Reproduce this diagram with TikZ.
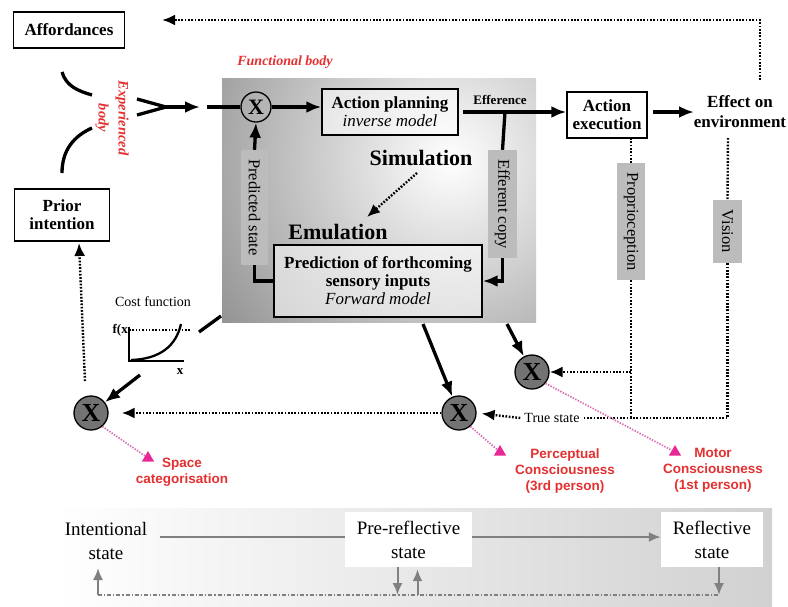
\documentclass[tikz,border=0pt]{standalone}
\usepackage{fontspec}
\setmainfont{Liberation Serif}
\newfontfamily\arialf{Liberation Sans}
\usetikzlibrary{arrows.meta,shapes.geometric,calc}
\definecolor{redtxt}{RGB}{228,48,48}
\definecolor{pinkc}{RGB}{232,40,150}
\definecolor{pinkl}{RGB}{215,110,178}
\definecolor{glab}{RGB}{188,188,188}
\definecolor{bgray}{RGB}{128,128,128}
\begin{document}
\begin{tikzpicture}[x=1pt,y=-1pt,
  every node/.style={inner sep=0pt},
  bx/.style={draw, line width=1.4pt, fill=white, align=center, font=\fontsize{17}{18}\selectfont\bfseries},
  inbx/.style={draw, line width=1.4pt, fill=white, fill opacity=0.55, text opacity=1, align=center, font=\fontsize{17}{18}\selectfont\bfseries},
  glabel/.style={fill=glab, rotate=-90, font=\fontsize{16.5}{17}\selectfont},
  thk/.style={line width=3.3pt, -{Latex[length=15pt,width=12pt]}},
  thkline/.style={line width=3.3pt},
  dotl/.style={line width=2.4pt, dash pattern=on 1.7pt off 1.6pt},
  dotarr/.style={dotl, -{Latex[length=13pt,width=11pt]}},
  xnode/.style={circle, draw, line width=1.3pt, fill=black!55, minimum size=34pt, font=\fontsize{26}{26}\selectfont\bfseries},
  redlab/.style={text=redtxt, align=center, font=\arialf\fontsize{13.5}{16}\selectfont\bfseries},
  pinkline/.style={pinkl, line width=1.7pt, dash pattern=on 1.4pt off 1.4pt},
  tri/.style={regular polygon, regular polygon sides=3, fill=pinkc, minimum size=14pt},
  botxt/.style={align=center, font=\fontsize{19}{24}\selectfont},
  garr/.style={bgray, line width=2pt, -{Latex[length=12pt,width=10pt]}}
]
\useasboundingbox (0,0) rectangle (788,606);
\fill[white] (0,0) rectangle (788,606);

% bottom band
\shade[left color=white, right color=black!18] (55,508) rectangle (772,606);

% functional body shading
\begin{scope}
\clip (222,78) rectangle (536,322);
\shade[inner color=white, outer color=black!74] (450,160) circle [radius=490pt];
\end{scope}
\coordinate (fbA) at (423,324);
\coordinate (fbB) at (507,324);

% labels
\node[text=redtxt, font=\fontsize{14}{16}\selectfont\bfseries\itshape] (fbl) at (285,62) {Functional body};
\node[text=redtxt, rotate=-90, align=center, font=\fontsize{14.5}{20}\selectfont\bfseries\itshape] (expl) at (112,118) {Experienced\\body};

% boxes
\node[bx, minimum width=111pt, minimum height=36pt] (aff) at (69,30) {Affordances};
\node[bx, minimum width=95pt, minimum height=52pt] (prior) at (62,215) {Prior\\intention};
\node[inbx, minimum width=136pt, minimum height=46pt] (ap) at (390,112) {Action planning\\{\mdseries\itshape inverse model}};
\node[inbx, minimum width=208pt, minimum height=72pt] (pred) at (378,281) {Prediction of forthcoming\\sensory inputs\\{\mdseries\itshape Forward model}};
\node[bx, minimum width=80pt, minimum height=46pt] (ae) at (607,115) {Action\\execution};
\node[align=center, font=\fontsize{17}{20}\selectfont\bfseries] (eoe) at (740,112) {Effect on\\environment};

\node[font=\fontsize{22}{22}\selectfont\bfseries] (sim) at (421,158) {Simulation};
\node[font=\fontsize{22}{22}\selectfont\bfseries] (emu) at (338,232) {Emulation};

% gray labels (rotated: west = top, east = bottom)
\node[glabel, minimum width=115pt, minimum height=27pt] (ps) at (254.5,207.5) {Predicted state};
\node[glabel, minimum width=108pt, minimum height=29pt] (ec) at (502.5,204) {Efferent copy};
\node[glabel, minimum width=117pt, minimum height=28pt] (prop) at (631,221.5) {Proprioception};
\node[glabel, minimum width=63pt, minimum height=29pt] (vis) at (727.5,231.5) {Vision};

% X circles
\node[circle, draw, line width=1.3pt, minimum size=30pt, font=\fontsize{22}{22}\selectfont\bfseries] (xin) at (256,107) {X};
\node[xnode] (xm) at (532,372) {X};
\node[xnode] (xp) at (459,413) {X};
\node[xnode] (xs) at (91,413) {X};

% experienced body
\draw[thkline] (62,72) .. controls (66,86) and (78,91) .. (92,95);
\draw[thkline] (92,128) .. controls (74,136) and (62,150) .. (62,173);
\coordinate (gtA) at (137,99);
\coordinate (gtB) at (137,115);
\coordinate (gt) at (166,107);
\coordinate (gtend) at (200,107);
\coordinate (xinst) at (207,107);
\draw[thkline, line join=miter] (gtA) -- (gt) -- (gtB);
\draw[thk] (gt) -- (gtend);
\draw[thkline] (xinst) -- (xin.west);
\draw[thk] (xin.east) -- (xin.east -| ap.west);

% efference
\coordinate (effst) at (463,112);
\draw[thk] (effst) -- (ae.west |- effst);
\node[font=\fontsize{13}{13}\selectfont\bfseries] (effl) at (500,100) {Efference};
\coordinate (ecTop) at (505,112);
\draw[thkline] (ecTop) -- (ec.west);
\draw[thk] (ec.east) |- (pred.east);

% predicted state
\draw[thk] (ps.west) -- (xin.south);
\draw[thkline] (ps.east) |- (pred.west);

% simulation -> emulation
\coordinate (simA) at (417,173);
\coordinate (emuA) at (367,217);
\draw[dotarr] (simA) -- (emuA);

% action execution -> effect
\coordinate (aeR) at (653,112);
\coordinate (eoeL) at (694,112);
\draw[thk] (aeR) -- (eoeL);

% top dotted feedback to affordances
\coordinate (eoeT) at (760,80);
\coordinate (affT) at (162,20);
\draw[dotarr] (eoeT) |- (affT);

% proprioception & vision
\coordinate (propT) at (631,138);
\coordinate (visT) at (728,138);
\draw[dotl] (propT) -- (prop.west);
\draw[dotl] (visT) -- (vis.west);
\node[font=\fontsize{14}{14}\selectfont, fill=white, inner xsep=4pt, inner ysep=2pt] (ts) at (552,418) {True state};
\draw[dotl] (vis.east) |- (ts.east);
\draw[dotl] (prop.east) -- (prop.east |- ts.east);
\draw[dotarr] (prop.east |- xm.east) -- (xm.east);
\draw[dotarr, shorten >=5pt] (ts.west) -- (xp.east);
\draw[dotarr, shorten >=13pt] (xp.west) -- (xs.east);

% functional body outputs
\draw[thk] (fbA) -- (xp);
\draw[thk] (fbB) -- (xm);

% cost function
\node[font=\fontsize{14}{14}\selectfont] (cf) at (153,302) {Cost function};
\draw[line width=2.3pt] (129,327) -- (129,361) -- (184,361);
\draw[line width=2.3pt] (131,360) .. controls (160,359) and (176,346) .. (181,324);
\draw[line width=1.7pt, dash pattern=on 1.5pt off 1.8pt] (129,330) -- (191,330);
\node[anchor=east, font=\fontsize{13}{13}\selectfont\bfseries] (fx) at (128,330) {f(x};
\node[font=\fontsize{13}{13}\selectfont\bfseries] (xl) at (180,372) {x};
\coordinate (cfA) at (199,332);
\coordinate (cfB) at (221,316);
\draw[thkline] (cfA) -- (cfB);
\coordinate (cfC) at (140,375);
\draw[thk] (cfC) -- (xs);

% space X -> prior intention
\coordinate (xsUp) at (85,381);
\coordinate (priorB) at (79,243);
\draw[dotarr] (xsUp) -- (priorB);

% consciousness labels
\node[tri] (t1) at (148,458) {};
\node[tri] (t2) at (500,452) {};
\node[tri] (t3) at (675,452) {};
\draw[pinkline] (xs.-50) -- (t1);
\draw[pinkline] (xp.-50) -- (t2);
\draw[pinkline] (xm.-40) -- (t3);
\node[redlab] (spc) at (182,472) {Space\\categorisation};
\node[redlab] (perc) at (565,471) {Perceptual\\Consciousness\\(3rd person)};
\node[redlab] (mot) at (713,470) {Motor\\Consciousness\\(1st person)};

% bottom
\node[botxt] (ints) at (106,541) {Intentional\\state};
\node[botxt, fill=white, minimum width=127pt, minimum height=55pt] (pre) at (408.5,539.5) {Pre-reflective\\state};
\node[botxt, fill=white, minimum width=102pt, minimum height=55pt] (refl) at (712,539.5) {Reflective\\state};
\coordinate (intR) at (160,537);
\draw[bgray, line width=2pt] (intR) -- (pre.west |- intR);
\draw[garr] (pre.east |- intR) -- (refl.west |- intR);
\coordinate (lpA) at (98,595);
\coordinate (lpB) at (719,595);
\coordinate (lpC) at (98,568);
\draw[bgray, line width=1.5pt, dash pattern=on 4pt off 2pt on 1.2pt off 2pt] (lpA) -- (lpB);
\draw[garr] (lpA) -- (lpC);
\draw[garr] ([xshift=-11pt]pre.south) -- ([xshift=-11pt]pre.south |- lpA);
\draw[garr] ([xshift=9pt]pre.south |- lpA) -- ([xshift=9pt,yshift=-2pt]pre.south);
\draw[garr] ([xshift=7pt]refl.south) -- ([xshift=7pt]refl.south |- lpA);
\end{tikzpicture}
\end{document}
